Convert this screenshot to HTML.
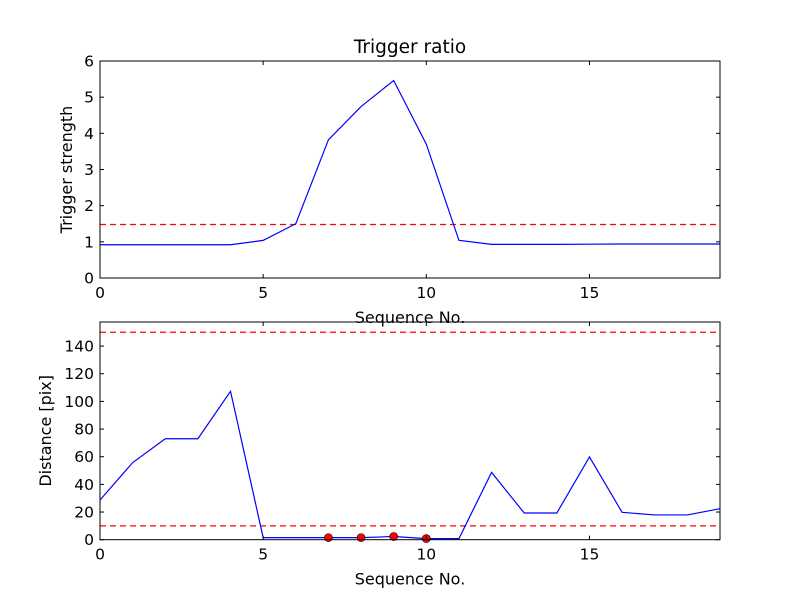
<!DOCTYPE html>
<html><head><meta charset="utf-8"><style>
html,body{margin:0;padding:0;background:#fff;}
svg{display:block;font-family:"DejaVu Sans","Liberation Sans",sans-serif;}
</style></head><body>
<svg id="chart" width="800" height="600"></svg>
<script>
const seqNo=[0,1,2,3,4,5,6,7,8,9,10,11,12,13,14,15,16,17,18,19];
const triggerStrength=[0.92,0.92,0.92,0.92,0.92,1.04,1.50,3.82,4.74,5.46,3.70,1.04,0.93,0.93,0.93,0.935,0.94,0.94,0.94,0.94];
const triggerThreshold=1.48;
const distance=[28.7,55.7,73,73,107.3,1.5,1.5,1.5,1.5,2.3,0.8,0.8,48.7,19.3,19.3,59.8,19.8,17.9,17.9,22.4];
const markedIdx=[7,8,9,10];
const distThresholds=[150,10];
const xTicks=[0,5,10,15];
const yTicksTop=[0,1,2,3,4,5,6];
const yTicksBot=[0,20,40,60,80,100,120,140];

const NS="http://www.w3.org/2000/svg";
const svg=document.getElementById('chart');
function mk(tag,attrs,parent,text){const e=document.createElementNS(NS,tag);for(const k in attrs)e.setAttribute(k,attrs[k]);if(text!==undefined)e.textContent=text;(parent||svg).appendChild(e);return e;}

function panel(cfg){
  const g=mk('g',{});
  
  
  const {L,R,T,B,xmax,ymax}=cfg;
  const sx=v=>L+(v/xmax)*(R-L);
  const sy=v=>B-(v/ymax)*(B-T);
  cfg.thresholds.forEach(t=>{
    const l=mk('line',{x1:L,x2:R,y1:sy(t),y2:sy(t),stroke:'#ff0000','stroke-width':1.2,'stroke-dasharray':'6,4'},g);
    
    
  });
  const pts=cfg.values.map((v,i)=>sx(seqNo[i])+','+sy(v)).join(' ');
  const pl=mk('polyline',{points:pts,fill:'none',stroke:'#0000ff','stroke-width':1.2},g);
  
  
  if(cfg.markers){cfg.markers.forEach(i=>{
    const c=mk('circle',{cx:sx(seqNo[i]),cy:sy(cfg.values[i]),r:4,fill:'#ff0000',stroke:'#000','stroke-width':0.6},g);
    
    
  });}
  const fr=mk('rect',{x:L,y:T,width:R-L,height:B-T,fill:'none',stroke:'#000','stroke-width':1},g);
  
  
  xTicks.forEach(t=>{
    const x=sx(t);
    mk('line',{x1:x,x2:x,y1:B,y2:B-4,stroke:'#000'},g);
    mk('line',{x1:x,x2:x,y1:T,y2:T+4,stroke:'#000'},g);
    const tx=mk('text',{x:x,y:B+20,'text-anchor':'middle','font-size':15.5},g,String(t));
    
    
  });
  cfg.yTicks.forEach(t=>{
    const y=sy(t);
    mk('line',{x1:L,x2:L+4,y1:y,y2:y,stroke:'#000'},g);
    mk('line',{x1:R,x2:R-4,y1:y,y2:y,stroke:'#000'},g);
    const tx=mk('text',{x:L-6,y:y+5.5,'text-anchor':'end','font-size':15.5},g,String(t));
    
    
  });
  const xl=mk('text',{x:(L+R)/2,y:B+45,'text-anchor':'middle','font-size':16},g,'Sequence No.');
  
  
  const cy=(T+B)/2;
  const yl=mk('text',{x:cfg.ylx,y:cy,'text-anchor':'middle','font-size':16,transform:'rotate(-90 '+cfg.ylx+' '+cy+')'},g,cfg.ylabel);
  
  
}

const title=mk('text',{x:410,y:53,'text-anchor':'middle','font-size':18.5},svg,'Trigger ratio');



panel({name:'trigger-panel',L:100,R:720,T:61,B:278,xmax:19,ymax:6,values:triggerStrength,thresholds:[triggerThreshold],yTicks:yTicksTop,ylabel:'Trigger strength',ylx:72});
panel({name:'distance-panel',L:100,R:720,T:322,B:539.7,xmax:19,ymax:157.4,values:distance,thresholds:distThresholds,yTicks:yTicksBot,ylabel:'Distance [pix]',ylx:51,markers:markedIdx});
</script>
</body></html>
